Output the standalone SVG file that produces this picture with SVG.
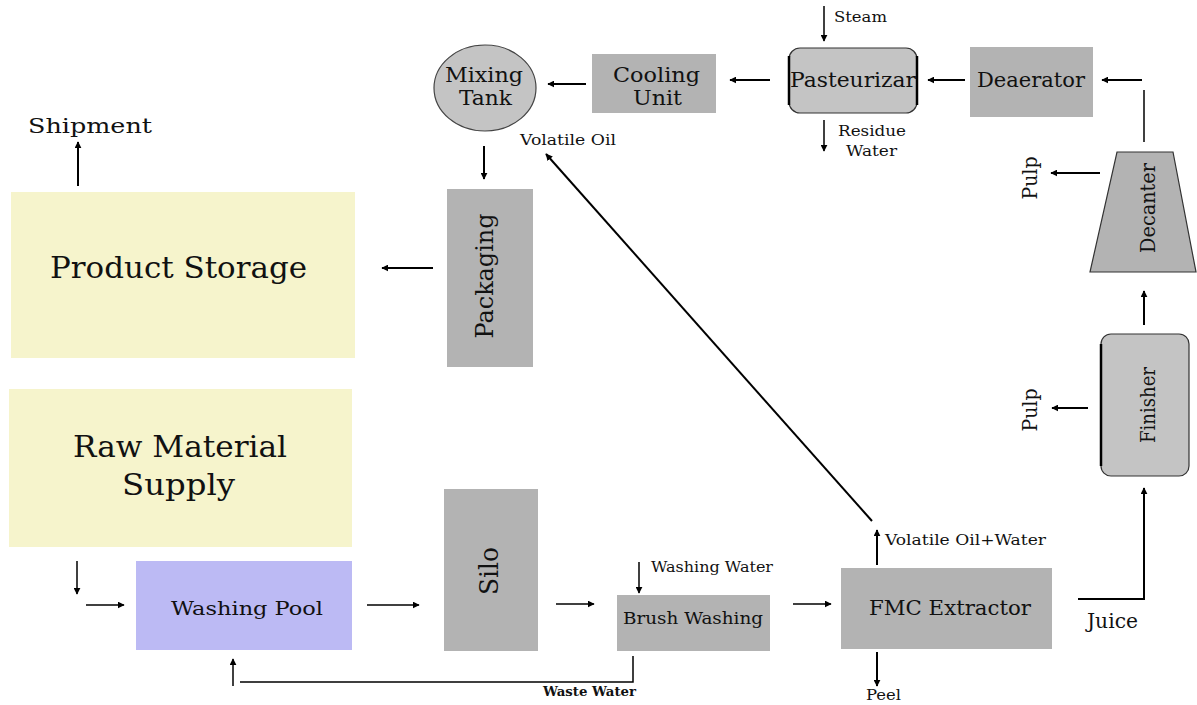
<svg xmlns="http://www.w3.org/2000/svg" width="1197" height="705" viewBox="0 0 1197 705">
<defs>
<marker id="ah" viewBox="0 0 10 10" refX="9" refY="5" markerWidth="7" markerHeight="7" markerUnits="userSpaceOnUse" orient="auto">
<path d="M0,0 L10,5 L0,10 z" fill="#000"/>
</marker>
<style>
.g{fill:#b3b3b3}
.y{fill:#f6f4cc}
.t{font-family:"DejaVu Serif","Liberation Serif",serif;fill:#111}
.c{stroke:#000;stroke-width:2;fill:none}
.thin{stroke:#000;stroke-width:1.5;fill:none}
.a{marker-end:url(#ah)}
</style>
</defs>
<rect width="1197" height="705" fill="#fff"/>
<g id="mixing-tank">
<ellipse cx="485" cy="88" rx="51" ry="43" fill="#c4c4c4" stroke="#444" stroke-width="1.2"/>
<text class="t" x="445" y="82" font-size="21" textLength="78" lengthAdjust="spacingAndGlyphs">Mixing</text>
<text class="t" x="459" y="105" font-size="21" textLength="53" lengthAdjust="spacingAndGlyphs">Tank</text>
</g>
<g id="cooling-unit">
<rect class="g" x="592" y="54" width="124" height="59"/>
<text class="t" x="613" y="82" font-size="21" textLength="87" lengthAdjust="spacingAndGlyphs">Cooling</text>
<text class="t" x="633" y="105" font-size="21" textLength="49" lengthAdjust="spacingAndGlyphs">Unit</text>
</g>
<g id="pasteurizar">
<rect x="789" y="48" width="128" height="65" rx="11" fill="#c4c4c4" stroke="#333" stroke-width="1.2"/>
<line x1="789" y1="56" x2="789" y2="105" stroke="#000" stroke-width="2.5"/>
<line x1="917" y1="56" x2="917" y2="105" stroke="#000" stroke-width="2.5"/>
<text class="t" x="790" y="87" font-size="21" textLength="126" lengthAdjust="spacingAndGlyphs">Pasteurizar</text>
</g>
<g id="deaerator">
<rect class="g" x="970" y="47" width="123" height="70"/>
<text class="t" x="977" y="87" font-size="21" textLength="108" lengthAdjust="spacingAndGlyphs">Deaerator</text>
</g>
<g id="decanter">
<path d="M1117,152 L1173,152 L1196,272 L1090,272 z" fill="#b3b3b3" stroke="#333" stroke-width="1.2"/>
<text class="t" font-size="20" text-anchor="middle" textLength="90" lengthAdjust="spacingAndGlyphs" transform="translate(1155,208) rotate(-90)">Decanter</text>
</g>
<g id="finisher">
<rect x="1101" y="334" width="88" height="142" rx="10" fill="#c4c4c4" stroke="#333" stroke-width="1.2"/>
<line x1="1101" y1="344" x2="1101" y2="466" stroke="#000" stroke-width="2.5"/>
<text class="t" font-size="20" text-anchor="middle" textLength="76" lengthAdjust="spacingAndGlyphs" transform="translate(1155,405) rotate(-90)">Finisher</text>
</g>
<g id="packaging">
<rect class="g" x="447" y="189" width="86" height="178"/>
<text class="t" font-size="24" text-anchor="middle" textLength="125" lengthAdjust="spacingAndGlyphs" transform="translate(493,276) rotate(-90)">Packaging</text>
</g>
<g id="product-storage">
<rect class="y" x="11" y="192" width="344" height="166"/>
<text class="t" x="50" y="278" font-size="30" textLength="257" lengthAdjust="spacingAndGlyphs">Product Storage</text>
</g>
<g id="raw-material-supply">
<rect class="y" x="9" y="389" width="343" height="158"/>
<text class="t" x="73" y="457" font-size="30" textLength="214" lengthAdjust="spacingAndGlyphs">Raw Material</text>
<text class="t" x="122" y="495" font-size="30" textLength="113" lengthAdjust="spacingAndGlyphs">Supply</text>
</g>
<g id="washing-pool">
<rect x="136" y="561" width="216" height="89" fill="#bcbaf4"/>
<text class="t" x="171" y="615" font-size="19" textLength="152" lengthAdjust="spacingAndGlyphs">Washing Pool</text>
</g>
<g id="silo">
<rect class="g" x="444" y="489" width="94" height="162"/>
<text class="t" font-size="26" text-anchor="middle" textLength="48" lengthAdjust="spacingAndGlyphs" transform="translate(498,571) rotate(-90)">Silo</text>
</g>
<g id="brush-washing">
<rect class="g" x="617" y="595" width="153" height="56"/>
<text class="t" x="623" y="624" font-size="17" textLength="140" lengthAdjust="spacingAndGlyphs">Brush Washing</text>
</g>
<g id="fmc-extractor">
<rect class="g" x="841" y="568" width="211" height="81"/>
<text class="t" x="869" y="615" font-size="21" textLength="162" lengthAdjust="spacingAndGlyphs">FMC Extractor</text>
</g>
<g id="connectors">
<line class="c a" x1="586" y1="84" x2="548" y2="84"/>
<line class="c a" x1="770" y1="80" x2="730" y2="80"/>
<line class="c a" x1="965" y1="80" x2="928" y2="80"/>
<line class="c a" x1="1142" y1="80" x2="1102" y2="80"/>
<line class="thin" x1="1144" y1="90" x2="1144" y2="142"/>
<line class="c a" x1="1100" y1="173" x2="1051" y2="173"/>
<line class="c a" x1="1144" y1="325" x2="1144" y2="291"/>
<line class="c a" x1="1088" y1="408" x2="1052" y2="408"/>
<polyline class="c a" points="1078,599 1144,599 1144,488"/>
<line class="c a" x1="877" y1="565" x2="877" y2="530"/>
<line class="c a" x1="877" y1="652" x2="877" y2="686"/>
<line class="c a" x1="872" y1="521" x2="546" y2="154"/>
<line class="c a" x1="484" y1="146" x2="484" y2="179"/>
<line class="c a" x1="433" y1="268" x2="382" y2="268"/>
<line class="c a" x1="78" y1="186" x2="78" y2="142"/>
<line class="thin a" x1="824" y1="6" x2="824" y2="41"/>
<line class="thin a" x1="824" y1="120" x2="824" y2="151"/>
<line class="thin a" x1="77" y1="561" x2="77" y2="594"/>
<line class="thin a" x1="86" y1="605" x2="124" y2="605"/>
<line class="thin a" x1="367" y1="605" x2="419" y2="605"/>
<line class="thin a" x1="556" y1="604" x2="594" y2="604"/>
<line class="thin a" x1="793" y1="604" x2="831" y2="604"/>
<line class="thin a" x1="639" y1="562" x2="639" y2="593"/>
<polyline class="thin" points="633,656 633,682 240,682"/>
<line class="thin a" x1="233" y1="686" x2="233" y2="659"/>
</g>
<g id="labels">
<text class="t" x="834" y="22" font-size="14" textLength="53" lengthAdjust="spacingAndGlyphs">Steam</text>
<text class="t" x="838" y="136" font-size="14" textLength="68" lengthAdjust="spacingAndGlyphs">Residue</text>
<text class="t" x="846" y="156" font-size="14" textLength="51" lengthAdjust="spacingAndGlyphs">Water</text>
<text class="t" x="520" y="145" font-size="14" textLength="96" lengthAdjust="spacingAndGlyphs">Volatile Oil</text>
<text class="t" x="28" y="133" font-size="21" textLength="124" lengthAdjust="spacingAndGlyphs">Shipment</text>
<text class="t" font-size="20" text-anchor="middle" textLength="43" lengthAdjust="spacingAndGlyphs" transform="translate(1037,178) rotate(-90)">Pulp</text>
<text class="t" font-size="20" text-anchor="middle" textLength="43" lengthAdjust="spacingAndGlyphs" transform="translate(1037,410) rotate(-90)">Pulp</text>
<text class="t" x="1087" y="628" font-size="21" textLength="51" lengthAdjust="spacingAndGlyphs">Juice</text>
<text class="t" x="885" y="545" font-size="14" textLength="161" lengthAdjust="spacingAndGlyphs">Volatile Oil+Water</text>
<text class="t" x="866" y="700" font-size="14" textLength="35" lengthAdjust="spacingAndGlyphs">Peel</text>
<text class="t" x="651" y="572" font-size="14" textLength="122" lengthAdjust="spacingAndGlyphs">Washing Water</text>
<text class="t" x="543" y="696" font-size="13" font-weight="bold" textLength="93" lengthAdjust="spacingAndGlyphs">Waste Water</text>
</g>
</svg>
